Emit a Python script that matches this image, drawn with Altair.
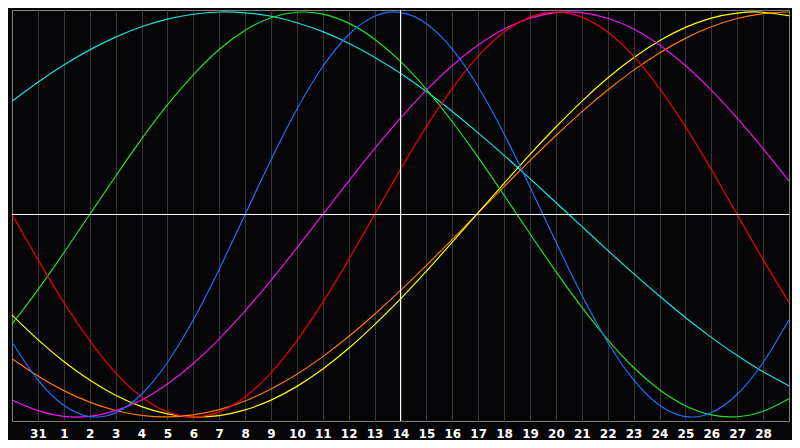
import altair as alt
import pandas as pd

# Day index across the chart (0 = left edge, 30 = right edge)
day_index = list(range(31))

# Tick labels at day index 1..29
tick_positions = list(range(1, 30))
tick_labels = ["31", "1", "2", "3", "4", "5", "6", "7", "8", "9", "10", "11", "12",
               "13", "14", "15", "16", "17", "18", "19", "20", "21", "22", "23",
               "24", "25", "26", "27", "28"]
today_index = [15]
baseline = [0]

# Cycle values in percent, read at each day index
physical = [-63.1, -81.7, -94.2, -99.8, -97.9, -88.8, -73.1, -52.0, -27.0, 0.0, 27.0,
            52.0, 73.1, 88.8, 97.9, 99.8, 94.2, 81.7, 63.1, 39.8, 13.6, -13.6, -39.8,
            -63.1, -81.7, -94.2, -99.8, -97.9, -88.8, -73.1, -52.0]
emotional = [0.0, -22.3, -43.4, -62.3, -78.2, -90.1, -97.5, -100.0, -97.5, -90.1, -78.2,
             -62.3, -43.4, -22.3, 0.0, 22.3, 43.4, 62.3, 78.2, 90.1, 97.5, 100.0, 97.5,
             90.1, 78.2, 62.3, 43.4, 22.3, 0.0, -22.3, -43.4]
intellectual = [-54.1, -37.2, -18.9, 0.0, 18.9, 37.2, 54.1, 69.0, 81.5, 91.0, 97.2, 99.9,
                99.0, 94.5, 86.6, 75.6, 61.8, 45.8, 28.2, 9.5, -9.5, -28.2, -45.8, -61.8,
                -75.6, -86.6, -94.5, -99.0, -99.9, -97.2, -91.0]
intuitive = [-91.6, -96.9, -99.7, -99.7, -96.9, -91.6, -83.7, -73.6, -61.4, -47.6, -32.5,
             -16.5, 0.0, 16.5, 32.5, 47.6, 61.4, 73.6, 83.7, 91.6, 96.9, 99.7, 99.7, 96.9,
             91.6, 83.7, 73.6, 61.4, 47.6, 32.5, 16.5]
aesthetic = [-49.7, -61.8, -72.6, -81.8, -89.3, -94.9, -98.5, -100.0, -99.3, -96.5, -91.7,
             -84.9, -76.3, -66.1, -54.4, -41.7, -28.0, -13.7, 0.9, 15.4, 29.7, 43.2, 55.9,
             67.4, 77.4, 85.8, 92.4, 97.0, 99.5, 99.9, 98.2]
awareness = [-71.3, -79.8, -87.0, -92.7, -96.8, -99.2, -100.0, -99.0, -96.4, -92.1, -86.2,
             -78.9, -70.2, -60.3, -49.3, -37.5, -25.1, -12.3, 0.8, 13.8, 26.6, 39.0, 50.7,
             61.5, 71.3, 79.8, 87.0, 92.7, 96.8, 99.2, 100.0]
spiritual = [55.9, 65.3, 73.8, 81.3, 87.6, 92.7, 96.5, 98.9, 100.0, 99.6, 97.9, 94.7, 90.3,
             84.6, 77.7, 69.7, 60.7, 50.9, 40.3, 29.2, 17.7, 5.9, -5.9, -17.7, -29.2, -40.3,
             -50.9, -60.7, -69.7, -77.7, -84.6]

series_names = ["Spiritual", "Awareness", "Aesthetic", "Intuitive", "Intellectual",
                "Emotional", "Physical"]
series_values = [spiritual, awareness, aesthetic, intuitive, intellectual, emotional, physical]
series_colors = ["#18e0e0", "#ff7800", "#ffff00", "#f010f0", "#20e020", "#f00000", "#1e6eff"]

rows = []
for name, vals in zip(series_names, series_values):
    for t, v in zip(day_index, vals):
        rows.append({"t": t, "v": v, "name": name})
df = pd.DataFrame(rows)

label_expr = "[" + ",".join("'%s'" % s for s in tick_labels) + "][datum.value - 1]"

x_scale = alt.Scale(domain=[0, 30], nice=False, zero=False)
y_scale = alt.Scale(domain=[-102, 101], nice=False, zero=False)

x_axis = alt.Axis(values=tick_positions, labelExpr=label_expr, grid=True,
                  gridColor="#363636", gridWidth=1, domain=False, ticks=False,
                  labelColor="#ffffff", labelFont="DejaVu Sans", labelFontSize=12,
                  labelFontWeight="bold", labelPadding=7, title=None,
                  labelFlush=False, labelOverlap=False)

lines = alt.Chart(df).mark_line(strokeWidth=1.2, interpolate="natural").encode(
    x=alt.X("t:Q", scale=x_scale, axis=x_axis),
    y=alt.Y("v:Q", scale=y_scale, axis=None),
    color=alt.Color("name:N", scale=alt.Scale(domain=series_names, range=series_colors),
                    legend=None),
)

vrule = alt.Chart(pd.DataFrame({"t": today_index})).mark_rule(
    color="#ffffff", strokeWidth=1).encode(
    x=alt.X("t:Q", scale=x_scale, axis=x_axis))

hrule = alt.Chart(pd.DataFrame({"v": baseline})).mark_rule(
    color="#ffffff", strokeWidth=1).encode(
    y=alt.Y("v:Q", scale=y_scale, axis=None))

chart = alt.layer(lines, vrule, hrule).properties(
    width=784, height=432,
    autosize=alt.AutoSizeParams(type="fit", contains="padding"),
    padding={"left": 1, "top": 1, "right": 0, "bottom": 1},
    background="#050508",
).configure_view(stroke="#808080", strokeWidth=1)

chart.save("out.html", embed_options={"renderer": "svg", "actions": False})
